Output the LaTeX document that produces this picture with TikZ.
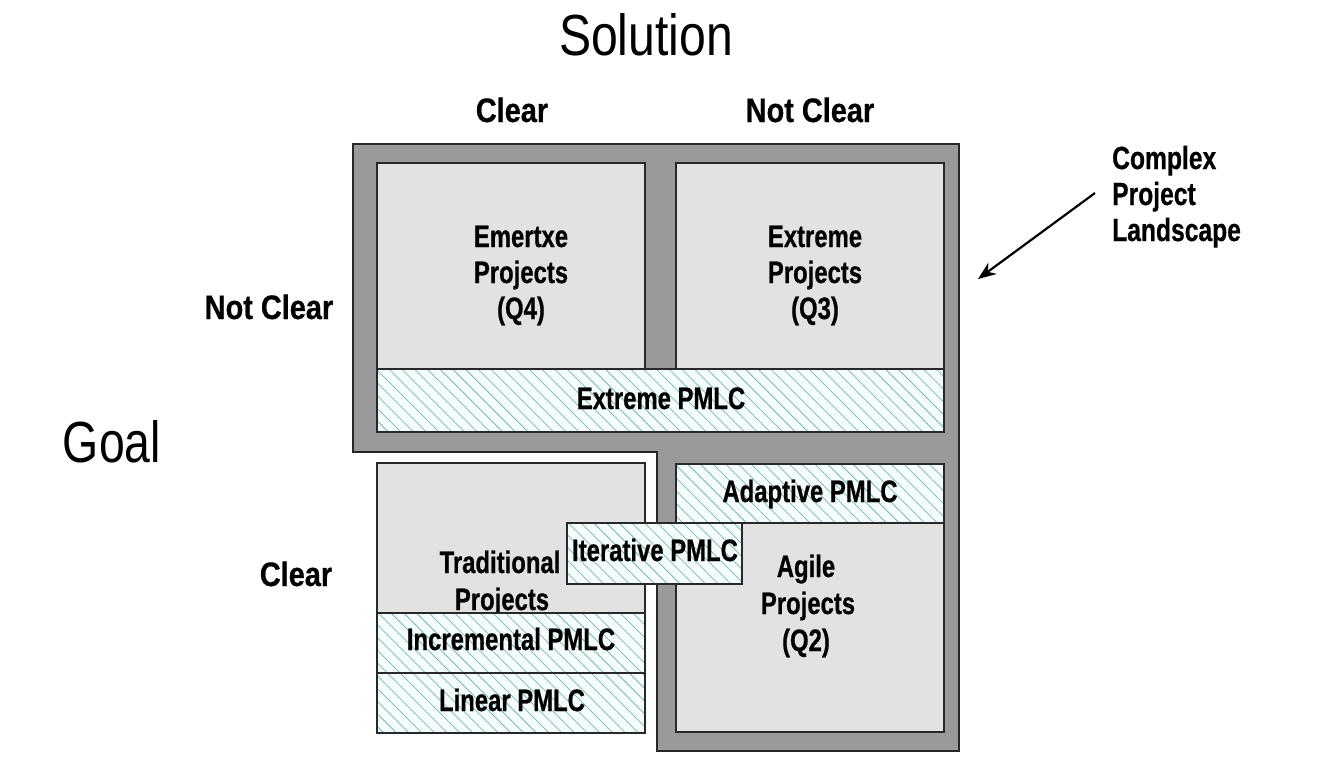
\documentclass[tikz,border=0pt]{standalone}
\usepackage{fontspec}
\setmainfont{Liberation Sans}
\newfontfamily\lblfont[FakeStretch=0.77,FakeBold=0.6]{Liberation Sans}
\newfontfamily\outfont[FakeStretch=0.85,FakeBold=0.6]{Liberation Sans}
\newfontfamily\bigfont[FakeStretch=0.8]{Liberation Sans}
\newfontfamily\solfont[FakeStretch=0.83]{Liberation Sans}
\usetikzlibrary{patterns.meta,arrows.meta}
\definecolor{framegray}{RGB}{154,154,154}
\definecolor{boxgray}{RGB}{226,226,226}
\definecolor{edgec}{RGB}{40,40,40}
\definecolor{hatchbg}{RGB}{244,252,252}
\definecolor{hatchline}{RGB}{120,185,185}
\begin{document}
\begin{tikzpicture}[x=1pt,y=-1pt,
  lbl/.style={font=\lblfont\bfseries\fontsize{31}{36}\selectfont, inner sep=0pt, anchor=base},
  lblw/.style={font=\lblfont\bfseries\fontsize{32}{36}\selectfont, inner sep=0pt, anchor=base west},
  outlbl/.style={font=\outfont\bfseries\fontsize{34}{40}\selectfont, inner sep=0pt, anchor=base},
  big/.style={font=\bigfont\fontsize{58}{60}\selectfont, inner sep=0pt, anchor=base},
  gbox/.style={draw=edgec, line width=1.5pt, fill=boxgray},
  hbox/.style={draw=edgec, line width=1.5pt, preaction={fill=hatchbg},
    pattern={Lines[angle=-45,distance=9pt,line width=0.75pt]}, pattern color=hatchline},
  framest/.style={draw=edgec, line width=1.2pt, fill=framegray},
  arr/.style={draw=black, line width=2.2pt, -{Stealth[length=18pt,width=14pt]}}
]
\useasboundingbox[fill=white] (0,0) rectangle (1318,782);

% titles
\node[big, font=\solfont\fontsize{58}{60}\selectfont] (solution) at (646,55) {Solution};
\node[big] (goal) at (112,462) {Goal};
\node[outlbl] (solclear) at (512,122) {Clear};
\node[outlbl] (solnotclear) at (810,122) {Not Clear};
\node[outlbl] (goalnotclear) at (269,319) {Not Clear};
\node[outlbl] (goalclear) at (296,586) {Clear};

% frame
\path[framest] (353,144) -- (959,144) -- (959,751) -- (657,751) -- (657,452) -- (353,452) -- cycle;

% top quadrants
\path[gbox] (377,163) rectangle (645,369);
\path[gbox] (676,163) rectangle (944,369);
\node[lbl] (q4a) at (521,247) {Emertxe};
\node[lbl] (q4b) at (521,283) {Projects};
\node[lbl] (q4c) at (521,319) {(Q4)};
\node[lbl] (q3a) at (815,247) {Extreme};
\node[lbl] (q3b) at (815,283) {Projects};
\node[lbl] (q3c) at (815,319) {(Q3)};
\path[hbox] (377,369) rectangle (944,432);
\node[lbl] (xpmlc) at (661,409) {Extreme PMLC};

% lower left
\path[gbox] (377,463) rectangle (645,613);
\node[lbl] (trada) at (500,573) {Traditional};
\node[lbl] (tradb) at (502,610) {Projects};
\path[hbox] (377,613) rectangle (645,673);
\node[lbl] (incr) at (511,650) {Incremental PMLC};
\path[hbox] (377,673) rectangle (645,733);
\node[lbl] (linear) at (512,711) {Linear PMLC};

% lower right
\path[hbox] (676,464) rectangle (944,523);
\node[lbl] (adapt) at (810,502) {Adaptive PMLC};
\path[gbox] (676,523) rectangle (944,732);
\node[lbl] (agilea) at (806,577) {Agile};
\node[lbl] (agileb) at (808,614) {Projects};
\node[lbl] (agilec) at (806,651) {(Q2)};

% iterative
\path[hbox] (567,523) rectangle (742,584);
\node[lbl] (iter) at (655,561) {Iterative PMLC};

% complex project landscape
\node[lblw] (cpl1) at (1112,169) {Complex};
\node[lblw] (cpl2) at (1112,205) {Project};
\node[lblw] (cpl3) at (1112,241) {Landscape};
\coordinate (arrstart) at (1095,193);
\coordinate (arrtip) at (978,279);
\draw[arr] (arrstart) -- (arrtip);
\end{tikzpicture}
\end{document}
